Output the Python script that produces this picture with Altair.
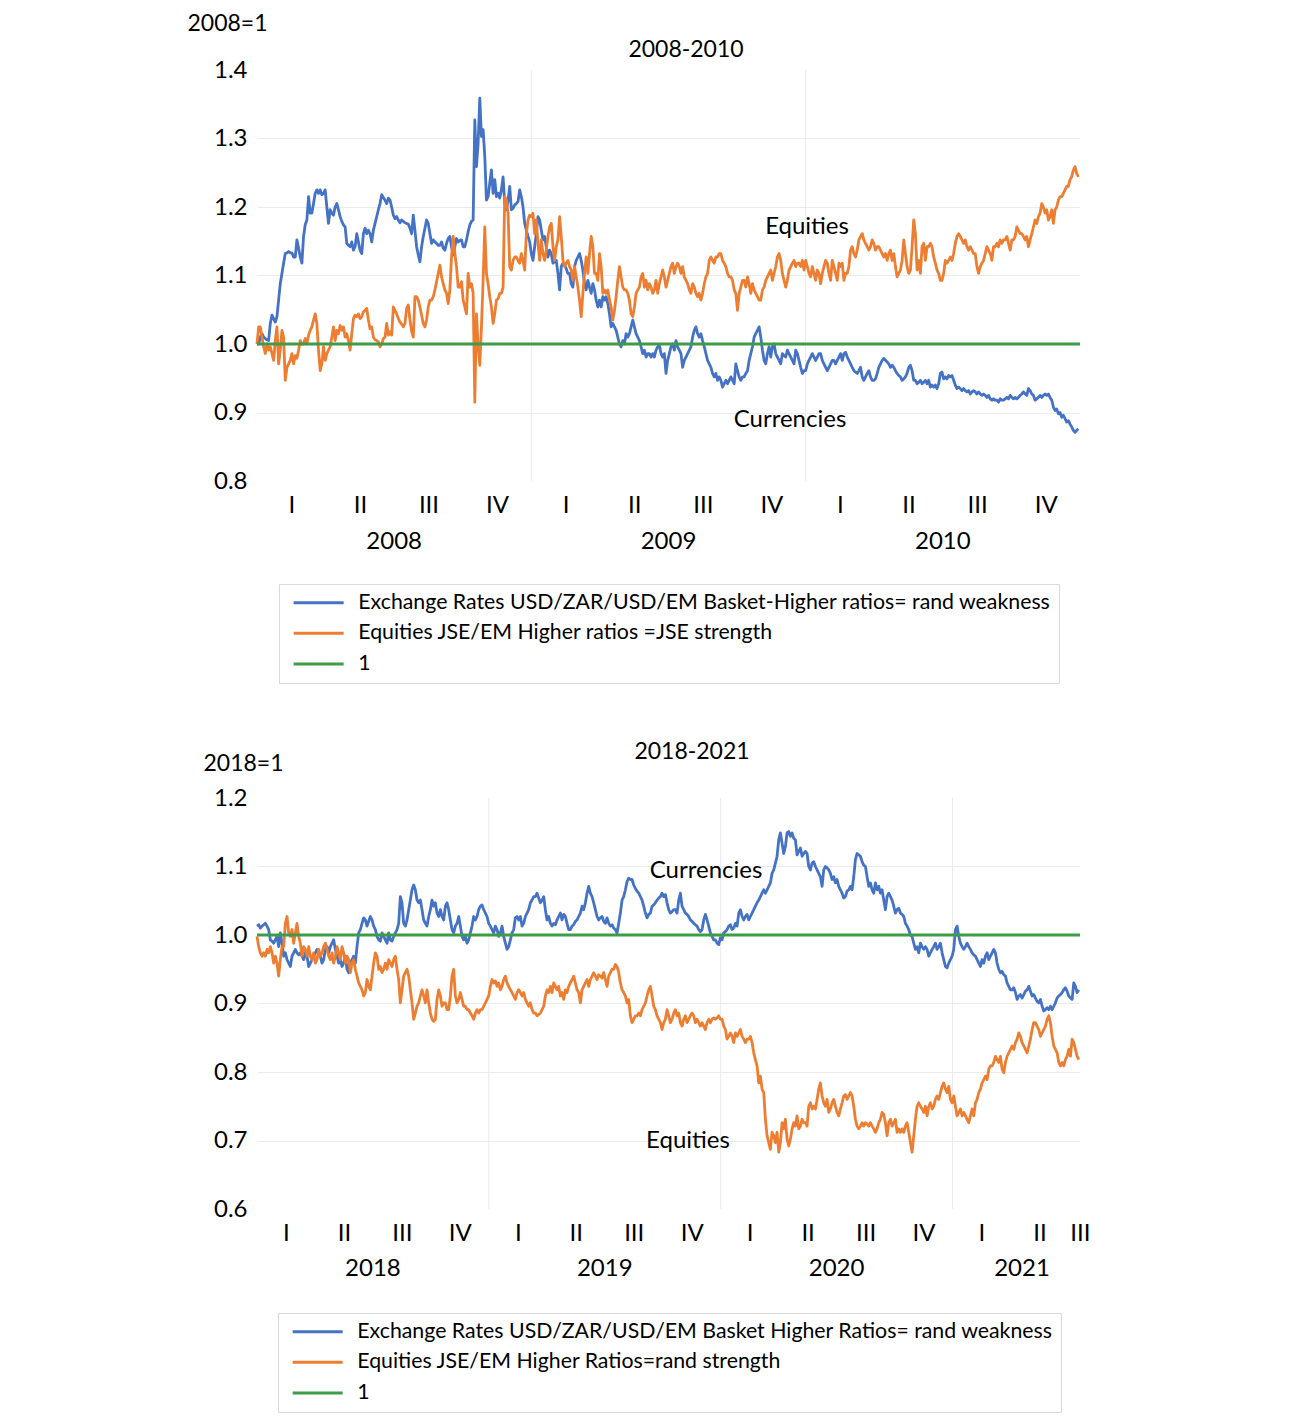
import altair as alt
import numpy as np
import pandas as pd

FONT = "Lato"
BLUE, ORANGE, GREEN = "#4472C4", "#ED7D31", "#3E9B47"
GRID = "#ebebeb"

# ------------------------------------------------------------------ 2008-2010
top_title = "2008-2010"
top_unit = "2008=1"
top_years = [2008, 2009, 2010]
top_boundaries = [2009, 2010]
top_fx_name = "Exchange Rates USD/ZAR/USD/EM Basket-Higher ratios= rand weakness"
top_eq_name = "Equities  JSE/EM Higher ratios =JSE strength"
top_obs_per_year = 165  # evenly spaced observations from 1 Jan 2008

top_fx = [
    1.000, 1.000, 1.010, 1.015, 1.010, 1.008, 1.006, 1.005, 1.030, 1.042,
    1.037, 1.032, 1.040, 1.064, 1.088, 1.103, 1.118, 1.132, 1.133, 1.135,
    1.133, 1.133, 1.127, 1.127, 1.152, 1.140, 1.127, 1.118, 1.157, 1.174,
    1.181, 1.215, 1.191, 1.191, 1.205, 1.220, 1.225, 1.220, 1.225, 1.218,
    1.220, 1.225, 1.200, 1.176, 1.196, 1.191, 1.188, 1.200, 1.205, 1.196,
    1.186, 1.179, 1.174, 1.171, 1.147, 1.144, 1.142, 1.149, 1.137, 1.142,
    1.161, 1.149, 1.137, 1.132, 1.161, 1.169, 1.161, 1.166, 1.161, 1.149,
    1.166, 1.176, 1.186, 1.196, 1.205, 1.218, 1.214, 1.210, 1.205, 1.213,
    1.210, 1.200, 1.188, 1.183, 1.186, 1.181, 1.177, 1.181, 1.179, 1.177,
    1.176, 1.175, 1.169, 1.161, 1.188, 1.166, 1.142, 1.130, 1.120, 1.142,
    1.157, 1.169, 1.181, 1.176, 1.161, 1.147, 1.152, 1.149, 1.147, 1.144,
    1.144, 1.149, 1.140, 1.137, 1.147, 1.154, 1.157, 1.142, 1.130, 1.142,
    1.154, 1.149, 1.151, 1.152, 1.142, 1.142, 1.152, 1.164, 1.174, 1.179,
    1.181, 1.327, 1.259, 1.293, 1.359, 1.303, 1.313, 1.274, 1.210, 1.215,
    1.235, 1.254, 1.220, 1.240, 1.215, 1.220, 1.213, 1.225, 1.244, 1.205,
    1.196, 1.210, 1.230, 1.196, 1.198, 1.203, 1.205, 1.208, 1.225, 1.215,
    1.200, 1.176, 1.166, 1.157, 1.149,
    # 2009
    1.132, 1.122, 1.142, 1.161, 1.186, 1.181, 1.166, 1.152, 1.157, 1.142,
    1.127, 1.137, 1.132, 1.118, 1.120, 1.122, 1.103, 1.079, 1.113, 1.118,
    1.115, 1.110, 1.103, 1.103, 1.088, 1.083, 1.113, 1.122, 1.127, 1.132,
    1.122, 1.108, 1.088, 1.079, 1.093, 1.083, 1.074, 1.088, 1.079, 1.064,
    1.054, 1.064, 1.054, 1.069, 1.064, 1.069, 1.059, 1.044, 1.025, 1.030,
    1.025, 1.020, 1.010, 1.000, 0.996, 1.005, 1.000, 1.015, 1.010, 1.015,
    1.025, 1.035, 1.025, 1.015, 1.010, 1.005, 0.996, 0.986, 0.991, 0.981,
    0.986, 0.986, 0.981, 0.986, 0.981, 0.991, 0.996, 0.998, 0.986, 0.981,
    0.986, 0.957, 0.976, 0.986, 0.996, 1.000, 0.991, 1.005, 0.996, 0.991,
    0.986, 0.966, 0.976, 0.981, 0.986, 0.991, 0.996, 1.010, 1.020, 1.025,
    1.015, 1.010, 1.015, 1.005, 0.996, 0.986, 0.976, 0.971, 0.966, 0.957,
    0.952, 0.957, 0.947, 0.952, 0.947, 0.937, 0.942, 0.947, 0.942, 0.947,
    0.952, 0.947, 0.942, 0.971, 0.961, 0.952, 0.947, 0.952, 0.952, 0.957,
    0.961, 0.976, 0.986, 0.996, 1.010, 1.015, 1.020, 1.025, 1.010, 0.991,
    0.976, 0.971, 0.986, 0.996, 0.981, 0.996, 1.000, 0.986, 0.981, 0.976,
    0.971, 0.986, 0.983, 0.981, 0.991, 0.986, 0.981, 0.976, 0.971, 0.991,
    0.986, 0.976, 0.966, 0.957, 0.961,
    # 2010
    0.961, 0.971, 0.976, 0.981, 0.986, 0.981, 0.976, 0.981, 0.986, 0.986,
    0.976, 0.971, 0.966, 0.961, 0.966, 0.971, 0.976, 0.976, 0.971, 0.976,
    0.981, 0.986, 0.976, 0.986, 0.988, 0.981, 0.976, 0.971, 0.966, 0.961,
    0.959, 0.957, 0.961, 0.966, 0.952, 0.947, 0.952, 0.957, 0.961, 0.952,
    0.947, 0.947, 0.949, 0.957, 0.966, 0.971, 0.976, 0.979, 0.976, 0.974,
    0.971, 0.966, 0.969, 0.966, 0.961, 0.957, 0.954, 0.952, 0.947, 0.949,
    0.952, 0.957, 0.966, 0.969, 0.961, 0.947, 0.947, 0.942, 0.944, 0.947,
    0.942, 0.944, 0.947, 0.942, 0.947, 0.937, 0.940, 0.937, 0.940, 0.935,
    0.942, 0.957, 0.959, 0.949, 0.952, 0.949, 0.954, 0.952, 0.954, 0.947,
    0.940, 0.935, 0.937, 0.935, 0.932, 0.935, 0.932, 0.930, 0.932, 0.927,
    0.930, 0.932, 0.930, 0.927, 0.930, 0.927, 0.925, 0.927, 0.925, 0.922,
    0.925, 0.920, 0.918, 0.920, 0.918, 0.918, 0.915, 0.920, 0.918, 0.918,
    0.920, 0.922, 0.920, 0.925, 0.922, 0.920, 0.922, 0.920, 0.922, 0.925,
    0.927, 0.930, 0.927, 0.925, 0.935, 0.932, 0.927, 0.925, 0.918, 0.920,
    0.922, 0.925, 0.922, 0.925, 0.927, 0.925, 0.927, 0.922, 0.918, 0.908,
    0.903, 0.905, 0.898, 0.900, 0.893, 0.896, 0.891, 0.886, 0.888, 0.883,
    0.879, 0.874, 0.871, 0.874, 0.876,
]

top_eq = [
    1.000, 1.025, 1.025, 1.010, 0.996, 0.986, 1.000, 0.991, 0.996, 0.986,
    0.976, 1.005, 1.025, 0.971, 0.991, 1.020, 1.010, 0.947, 0.966, 0.971,
    0.976, 0.986, 0.971, 0.983, 0.979, 0.991, 1.005, 1.000, 1.000, 1.008,
    1.000, 1.013, 1.020, 1.025, 1.035, 1.044, 1.030, 0.991, 0.961, 0.971,
    0.996, 0.976, 0.986, 0.991, 0.996, 1.010, 1.025, 1.005, 1.020, 1.015,
    1.027, 1.020, 1.025, 1.010, 1.015, 1.005, 0.991, 1.015, 1.037, 1.042,
    1.040, 1.044, 1.037, 1.040, 1.047, 1.049, 1.052, 1.035, 1.022, 1.025,
    1.010, 1.006, 1.005, 1.003, 0.996, 1.000, 1.008, 1.010, 1.030, 1.013,
    1.018, 1.013, 1.054, 1.049, 1.044, 1.037, 1.032, 1.029, 1.025, 1.030,
    1.052, 1.057, 1.035, 1.018, 1.010, 1.069, 1.069, 1.064, 1.054, 1.042,
    1.030, 1.025, 1.035, 1.054, 1.064, 1.064, 1.069, 1.079, 1.091, 1.103,
    1.115, 1.098, 1.088, 1.079, 1.074, 1.059, 1.079, 1.127, 1.157, 1.132,
    1.113, 1.083, 1.083, 1.091, 1.064, 1.054, 1.044, 1.103, 1.083, 1.088,
    1.074, 0.915, 1.044, 0.996, 0.969, 1.025, 1.093, 1.171, 1.103, 1.088,
    1.069, 1.054, 1.030, 1.044, 1.064, 1.066, 1.074, 1.074, 1.083, 1.215,
    1.210, 1.191, 1.113, 1.108, 1.122, 1.127, 1.127, 1.122, 1.118, 1.132,
    1.122, 1.108, 1.161, 1.181, 1.188,
    # 2009
    1.186, 1.191, 1.161, 1.181, 1.147, 1.122, 1.152, 1.132, 1.122, 1.137,
    1.157, 1.171, 1.176, 1.142, 1.122, 1.142, 1.152, 1.186, 1.157, 1.122,
    1.113, 1.118, 1.122, 1.113, 1.108, 1.093, 1.113, 1.098, 1.083, 1.064,
    1.040, 1.074, 1.103, 1.127, 1.103, 1.132, 1.157, 1.142, 1.103, 1.103,
    1.093, 1.132, 1.113, 1.074, 1.079, 1.074, 1.079, 1.064, 1.054, 1.035,
    1.049, 1.069, 1.093, 1.113, 1.098, 1.083, 1.079, 1.079, 1.074, 1.064,
    1.044, 1.040, 1.054, 1.074, 1.079, 1.083, 1.098, 1.103, 1.083, 1.093,
    1.079, 1.088, 1.083, 1.074, 1.079, 1.093, 1.074, 1.088, 1.098, 1.108,
    1.098, 1.083, 1.093, 1.103, 1.113, 1.118, 1.103, 1.113, 1.118, 1.113,
    1.103, 1.113, 1.098, 1.093, 1.088, 1.079, 1.074, 1.088, 1.083, 1.074,
    1.069, 1.074, 1.064, 1.074, 1.088, 1.098, 1.103, 1.122, 1.127, 1.122,
    1.118, 1.127, 1.127, 1.132, 1.132, 1.122, 1.118, 1.113, 1.103, 1.098,
    1.098, 1.093, 1.079, 1.074, 1.049, 1.074, 1.083, 1.093, 1.093, 1.083,
    1.098, 1.088, 1.074, 1.088, 1.079, 1.074, 1.069, 1.064, 1.064, 1.079,
    1.083, 1.093, 1.098, 1.103, 1.108, 1.093, 1.103, 1.113, 1.127, 1.132,
    1.122, 1.103, 1.093, 1.083, 1.093, 1.108, 1.113, 1.118, 1.122, 1.113,
    1.118, 1.118, 1.113, 1.122, 1.108,
    # 2010
    1.122, 1.113, 1.103, 1.098, 1.113, 1.103, 1.093, 1.108, 1.103, 1.088,
    1.103, 1.113, 1.122, 1.118, 1.103, 1.093, 1.122, 1.113, 1.103, 1.093,
    1.118, 1.113, 1.118, 1.093, 1.103, 1.103, 1.113, 1.137, 1.142, 1.132,
    1.127, 1.137, 1.152, 1.157, 1.161, 1.152, 1.147, 1.142, 1.137, 1.142,
    1.152, 1.147, 1.137, 1.142, 1.142, 1.137, 1.132, 1.127, 1.132, 1.122,
    1.132, 1.137, 1.122, 1.132, 1.113, 1.098, 1.103, 1.108, 1.122, 1.152,
    1.132, 1.113, 1.103, 1.108, 1.142, 1.181, 1.161, 1.108, 1.122, 1.103,
    1.142, 1.147, 1.122, 1.142, 1.142, 1.147, 1.142, 1.127, 1.118, 1.108,
    1.103, 1.093, 1.093, 1.103, 1.122, 1.118, 1.122, 1.127, 1.122, 1.132,
    1.147, 1.157, 1.161, 1.157, 1.152, 1.147, 1.152, 1.142, 1.137, 1.142,
    1.137, 1.132, 1.132, 1.113, 1.103, 1.113, 1.118, 1.122, 1.132, 1.142,
    1.137, 1.132, 1.122, 1.142, 1.142, 1.147, 1.142, 1.152, 1.147, 1.152,
    1.152, 1.157, 1.147, 1.137, 1.152, 1.152, 1.157, 1.171, 1.166, 1.161,
    1.161, 1.157, 1.152, 1.157, 1.142, 1.152, 1.161, 1.171, 1.181, 1.176,
    1.186, 1.191, 1.205, 1.200, 1.191, 1.196, 1.181, 1.186, 1.196, 1.176,
    1.196, 1.200, 1.210, 1.215, 1.215, 1.220, 1.225, 1.230, 1.230, 1.240,
    1.244, 1.254, 1.259, 1.249, 1.244,
]

top_ann_t = [2010.005, 2009.943]
top_ann_v = [1.171, 0.889]
top_ann_text = ["Equities", "Currencies"]

# ------------------------------------------------------------------ 2018-2021
bot_title = "2018-2021"
bot_unit = "2018=1"
bot_years = [2018, 2019, 2020, 2021]
bot_boundaries = [2019, 2020, 2021]
bot_fx_name = "Exchange Rates USD/ZAR/USD/EM Basket Higher Ratios= rand weakness"
bot_eq_name = "Equities JSE/EM Higher Ratios=rand strength"
bot_obs_per_year = 139.08  # evenly spaced observations from 1 Jan 2018
bot_end = 2021.55

bot_fx = [
    1.013, 1.015, 1.010, 1.013, 1.015, 1.017, 1.013, 1.008, 0.993, 0.991,
    0.988, 0.993, 0.998, 0.983, 1.003, 0.988, 0.969, 0.974, 0.964, 0.959,
    0.954, 0.969, 0.974, 0.979, 0.974, 0.971, 0.974, 0.969, 0.964, 0.974,
    0.969, 0.954, 0.959, 0.964, 0.969, 0.974, 0.979, 0.974, 0.969, 0.959,
    0.964, 0.979, 0.983, 0.974, 0.983, 0.988, 0.993, 0.979, 0.969, 0.959,
    0.964, 0.954, 0.959, 0.969, 0.950, 0.945, 0.959, 0.964, 0.969, 0.959,
    0.983, 1.003, 1.008, 1.017, 1.025, 1.022, 1.013, 1.020, 1.027, 1.022,
    1.013, 1.008, 0.998, 0.993, 0.991, 1.003, 0.998, 0.993, 0.988, 1.003,
    0.993, 0.991, 0.998, 1.003, 1.008, 1.017, 1.056, 1.047, 1.017, 1.013,
    1.022, 1.037, 1.051, 1.066, 1.073, 1.066, 1.051, 1.047, 1.051, 1.037,
    1.022, 1.017, 1.013, 1.027, 1.037, 1.051, 1.042, 1.047, 1.032, 1.027,
    1.037, 1.027, 1.022, 1.042, 1.047, 1.037, 1.022, 1.008, 1.003, 1.013,
    1.017, 1.027, 1.013, 0.998, 0.993, 0.998, 0.988, 0.993, 1.003, 1.013,
    1.027, 1.022, 1.027, 1.037, 1.042, 1.044, 1.037, 1.032, 1.027, 1.017,
    1.013, 1.008, 1.003, 1.013, 1.008, 0.998, 1.003, 1.013, 0.998, 0.988,
    0.979, 0.983, 0.993, 1.003, 1.008, 1.025, 1.027, 1.022, 1.027, 1.013,
    1.017, 1.027, 1.032, 1.037, 1.047, 1.051, 1.056,
    1.056, 1.061, 1.054, 1.047, 1.051, 1.056, 1.037, 1.022, 1.027, 1.017,
    1.013, 1.017, 1.015, 1.022, 1.027, 1.032, 1.022, 1.030, 1.027, 1.017,
    1.008, 1.008, 1.013, 1.015, 1.020, 1.022, 1.027, 1.032, 1.042, 1.037,
    1.047, 1.061, 1.071, 1.061, 1.056, 1.047, 1.037, 1.027, 1.022, 1.025,
    1.027, 1.020, 1.017, 1.025, 1.017, 1.013, 1.015, 1.010, 1.008, 1.003,
    1.017, 1.032, 1.051, 1.056, 1.066, 1.078, 1.083, 1.081, 1.081, 1.073,
    1.068, 1.064, 1.061, 1.056, 1.051, 1.042, 1.032, 1.025, 1.030, 1.032,
    1.042, 1.044, 1.047, 1.051, 1.054, 1.056, 1.061, 1.056, 1.059, 1.047,
    1.037, 1.032, 1.034, 1.037, 1.037, 1.032, 1.051, 1.061, 1.042, 1.037,
    1.032, 1.030, 1.027, 1.022, 1.020, 1.017, 1.015, 1.013, 1.008, 1.005,
    1.008, 1.022, 1.030, 1.022, 1.013, 1.003, 0.998, 0.993, 0.993, 0.988,
    0.986, 0.996, 0.993, 1.003, 1.005, 1.008, 1.013, 1.015, 1.008, 1.010,
    1.017, 1.013, 1.032, 1.037, 1.027, 1.022, 1.027, 1.030, 1.022, 1.027,
    1.032, 1.037, 1.042, 1.047, 1.051, 1.056, 1.061, 1.066, 1.061, 1.066,
    1.071, 1.076, 1.090, 1.095, 1.105, 1.115, 1.139, 1.149, 1.134, 1.119,
    1.129, 1.149, 1.151, 1.144, 1.149, 1.141, 1.139, 1.117, 1.122, 1.127,
    1.115, 1.119, 1.122, 1.119,
    1.100, 1.095, 1.105, 1.107, 1.100, 1.095, 1.090, 1.085, 1.071, 1.095,
    1.100, 1.098, 1.095, 1.090, 1.081, 1.085, 1.076, 1.081, 1.071, 1.066,
    1.061, 1.054, 1.056, 1.064, 1.066, 1.071, 1.066, 1.085, 1.110, 1.119,
    1.117, 1.115, 1.107, 1.102, 1.100, 1.085, 1.071, 1.076, 1.066, 1.061,
    1.076, 1.066, 1.071, 1.061, 1.066, 1.051, 1.037, 1.056, 1.061, 1.056,
    1.051, 1.042, 1.032, 1.037, 1.039, 1.032, 1.030, 1.027, 1.017, 1.013,
    1.008, 1.000, 0.998, 0.988, 0.979, 0.983, 0.974, 0.988, 0.983, 0.979,
    0.983, 0.979, 0.969, 0.974, 0.979, 0.983, 0.988, 0.979, 0.983, 0.988,
    0.974, 0.964, 0.954, 0.952, 0.959, 0.964, 0.969, 0.979, 1.008, 1.013,
    0.998, 0.988, 0.983, 0.979, 0.983, 0.988, 0.983, 0.979, 0.974, 0.971,
    0.969, 0.964, 0.959, 0.954, 0.964, 0.959, 0.969, 0.974, 0.964, 0.969,
    0.974, 0.979, 0.974, 0.959, 0.950, 0.945, 0.947, 0.942, 0.940, 0.930,
    0.925, 0.920, 0.920, 0.923, 0.916, 0.906, 0.911, 0.913, 0.908, 0.913,
    0.918, 0.920, 0.925, 0.918, 0.911, 0.913, 0.908, 0.903, 0.901, 0.906,
    0.896, 0.889, 0.891, 0.894, 0.891, 0.896, 0.891, 0.896, 0.901, 0.908,
    0.911, 0.913, 0.916, 0.920, 0.923, 0.918, 0.911, 0.908, 0.906, 0.930,
    0.925, 0.916, 0.920,
]

bot_eq = [
    0.998, 0.983, 0.974, 0.969, 0.974, 0.969, 0.979, 0.974, 0.983, 0.974,
    0.959, 0.969, 0.959, 0.940, 0.964, 0.983, 0.983, 1.017, 1.027, 1.003,
    0.998, 1.008, 0.988, 1.003, 1.017, 0.998, 0.988, 0.969, 0.983, 0.979,
    0.969, 0.983, 0.969, 0.964, 0.974, 0.959, 0.964, 0.979, 0.969, 0.974,
    0.983, 0.988, 0.979, 0.969, 0.964, 0.974, 0.959, 0.969, 0.983, 0.974,
    0.964, 0.983, 0.974, 0.959, 0.969, 0.964, 0.945, 0.959, 0.964, 0.950,
    0.940, 0.930, 0.925, 0.920, 0.911, 0.916, 0.935, 0.925, 0.920, 0.940,
    0.959, 0.974, 0.969, 0.950, 0.954, 0.945, 0.950, 0.959, 0.950, 0.964,
    0.959, 0.954, 0.964, 0.969, 0.950, 0.935, 0.901, 0.920, 0.940, 0.945,
    0.950, 0.940, 0.920, 0.901, 0.877, 0.886, 0.896, 0.901, 0.911, 0.920,
    0.911, 0.901, 0.920, 0.901, 0.886, 0.877, 0.874, 0.877, 0.906, 0.920,
    0.911, 0.896, 0.901, 0.901, 0.891, 0.891, 0.911, 0.940, 0.950, 0.911,
    0.901, 0.906, 0.916, 0.906, 0.896, 0.896, 0.891, 0.891, 0.886, 0.882,
    0.877, 0.886, 0.891, 0.886, 0.891, 0.891, 0.896, 0.901, 0.906, 0.911,
    0.925, 0.935, 0.930, 0.933, 0.925, 0.930, 0.920, 0.925, 0.935, 0.940,
    0.930, 0.925, 0.920, 0.916, 0.911, 0.906, 0.916, 0.920, 0.916, 0.911,
    0.916, 0.906, 0.901, 0.896, 0.901, 0.891, 0.886,
    0.886, 0.882, 0.884, 0.886, 0.891, 0.896, 0.911, 0.920, 0.916, 0.925,
    0.916, 0.930, 0.925, 0.920, 0.925, 0.911, 0.916, 0.906, 0.920, 0.916,
    0.925, 0.930, 0.935, 0.940, 0.930, 0.920, 0.916, 0.901, 0.920, 0.925,
    0.930, 0.935, 0.925, 0.935, 0.940, 0.945, 0.940, 0.935, 0.942, 0.940,
    0.937, 0.945, 0.935, 0.925, 0.940, 0.945, 0.950, 0.950, 0.957, 0.954,
    0.945, 0.930, 0.920, 0.916, 0.911, 0.901, 0.906, 0.882, 0.872, 0.877,
    0.882, 0.882, 0.886, 0.882, 0.891, 0.896, 0.901, 0.911, 0.920, 0.925,
    0.911, 0.896, 0.891, 0.882, 0.877, 0.872, 0.862, 0.872, 0.877, 0.891,
    0.882, 0.872, 0.877, 0.886, 0.891, 0.882, 0.886, 0.872, 0.867, 0.877,
    0.882, 0.872, 0.877, 0.882, 0.886, 0.882, 0.872, 0.877, 0.872, 0.867,
    0.872, 0.867, 0.862, 0.872, 0.877, 0.872, 0.877, 0.879, 0.877, 0.879,
    0.882, 0.877, 0.877, 0.867, 0.862, 0.848, 0.852, 0.857, 0.852, 0.843,
    0.857, 0.852, 0.857, 0.862, 0.852, 0.848, 0.843, 0.848, 0.848, 0.852,
    0.843, 0.828, 0.818, 0.809, 0.784, 0.794, 0.775, 0.770, 0.731, 0.707,
    0.697, 0.687, 0.712, 0.707, 0.697, 0.712, 0.683, 0.697, 0.726, 0.717,
    0.731, 0.702, 0.692, 0.702, 0.717, 0.726, 0.721, 0.736, 0.717, 0.721,
    0.731, 0.726, 0.726, 0.721,
    0.750, 0.755, 0.746, 0.750, 0.746, 0.760, 0.775, 0.784, 0.765, 0.755,
    0.750, 0.760, 0.741, 0.746, 0.755, 0.760, 0.750, 0.741, 0.736, 0.746,
    0.755, 0.765, 0.767, 0.760, 0.765, 0.770, 0.765, 0.750, 0.731, 0.721,
    0.717, 0.721, 0.726, 0.721, 0.726, 0.724, 0.721, 0.726, 0.721, 0.717,
    0.712, 0.717, 0.726, 0.731, 0.741, 0.738, 0.726, 0.707, 0.726, 0.731,
    0.721, 0.726, 0.731, 0.712, 0.717, 0.712, 0.717, 0.712, 0.721, 0.726,
    0.712, 0.697, 0.683, 0.707, 0.731, 0.750, 0.755, 0.750, 0.746, 0.741,
    0.750, 0.736, 0.750, 0.755, 0.746, 0.750, 0.760, 0.765, 0.760, 0.770,
    0.779, 0.784, 0.775, 0.770, 0.779, 0.760, 0.755, 0.765, 0.750, 0.736,
    0.741, 0.746, 0.736, 0.741, 0.736, 0.731, 0.726, 0.736, 0.746, 0.736,
    0.755, 0.760, 0.770, 0.775, 0.784, 0.789, 0.794, 0.789, 0.804, 0.809,
    0.809, 0.814, 0.823, 0.818, 0.814, 0.823, 0.804, 0.799, 0.814, 0.823,
    0.828, 0.833, 0.838, 0.833, 0.843, 0.848, 0.857, 0.852, 0.843, 0.838,
    0.833, 0.828, 0.838, 0.848, 0.862, 0.872, 0.872, 0.867, 0.862, 0.852,
    0.857, 0.862, 0.867, 0.877, 0.882, 0.872, 0.852, 0.838, 0.833, 0.828,
    0.814, 0.809, 0.814, 0.809, 0.818, 0.823, 0.833, 0.823, 0.848, 0.843,
    0.833, 0.823, 0.818,
]

bot_ann_t = [2019.937, 2019.859]
bot_ann_v = [1.093, 0.699]
bot_ann_text = ["Currencies", "Equities"]

W, H = 823, 411


def series(t0, per_year, values, name):
    t = t0 + np.arange(len(values)) / per_year
    return pd.DataFrame({"t": t, "v": values, "s": name})


def panel(fx, eq, t0, per_year, x_dom, y_dom, q_pos, years, year_mid, bounds,
          title, unit, fx_name, eq_name, ann_t, ann_v, ann_text,
          unit_xy, title_xy, leg_xy, year_dy):
    names = [fx_name, eq_name, "1"]
    x_enc = alt.X(
        "t:Q",
        scale=alt.Scale(domain=x_dom, nice=False, zero=False),
        axis=alt.Axis(
            values=q_pos,
            labelExpr="['I','II','III','IV'][floor((datum.value - floor(datum.value)) * 4 + 0.0001)]",
            grid=False, ticks=False, domain=False, title=None,
            labelFontSize=24, labelPadding=24, labelBaseline="middle",
            labelFlush=False, labelOverlap=False, labelColor="#000000",
            labelFont=FONT,
        ),
    )
    y_ticks = [round(y_dom[0] + 0.1 * i, 1) for i in range(7)]
    y_enc = alt.Y(
        "v:Q",
        scale=alt.Scale(domain=y_dom, nice=False, zero=False),
        axis=alt.Axis(
            values=y_ticks, format=".1f", ticks=False, domain=False,
            grid=True,
            gridColor={"condition": {"test": f"datum.value < {y_dom[0] + 0.05} || datum.value > {y_dom[1] - 0.05}",
                                     "value": "transparent"},
                       "value": GRID},
            labelFontSize=24, labelPadding=10, labelColor="#000000", labelFont=FONT,
            title=unit, titleAngle=0, titleX=unit_xy[0], titleY=unit_xy[1],
            titleAlign="center", titleBaseline="middle", titleFontSize=23,
            titleFontWeight="normal", titleColor="#000000", titleFont=FONT,
        ),
    )
    color_enc = alt.Color(
        "s:N",
        scale=alt.Scale(domain=names, range=[BLUE, ORANGE, GREEN]),
        legend=alt.Legend(
            title=None, orient="none", legendX=leg_xy[0], legendY=leg_xy[1],
            direction="vertical", symbolType="M-5,0H5", symbolSize=100,
            symbolStrokeWidth=3, symbolOffset=21, labelOffset=29,
            labelFontSize=21.3, labelFont=FONT, labelColor="#000000",
            labelLimit=2000, rowPadding=8.7, padding=8,
            strokeColor="#d9d9d9", fillColor="white",
        ),
    )

    rules = alt.Chart(pd.DataFrame({"t": bounds})).mark_rule(
        color=GRID, strokeWidth=1
    ).encode(x=x_enc)
    fx_line = alt.Chart(series(t0, per_year, fx, fx_name)).mark_line(
        strokeWidth=2.8, strokeJoin="round"
    ).encode(x=x_enc, y=y_enc, color=color_enc)
    eq_line = alt.Chart(series(t0, per_year, eq, eq_name)).mark_line(
        strokeWidth=2.8, strokeJoin="round"
    ).encode(x=x_enc, y=y_enc, color=color_enc)
    one_line = alt.Chart(
        pd.DataFrame({"t": list(x_dom), "v": [1.0, 1.0], "s": ["1", "1"]})
    ).mark_line(strokeWidth=3).encode(x=x_enc, y=y_enc, color=color_enc)

    ann = alt.Chart(
        pd.DataFrame({"t": ann_t, "v": ann_v, "label": ann_text})
    ).mark_text(font=FONT, fontSize=24, color="#000000", baseline="middle").encode(
        x=x_enc, y=y_enc, text="label:N"
    )
    yr = alt.Chart(
        pd.DataFrame({"t": year_mid, "label": [str(y) for y in years]})
    ).mark_text(font=FONT, fontSize=24, color="#000000", baseline="middle").encode(
        x=x_enc, y=alt.value(H + year_dy), text="label:N"
    )
    ttl = alt.Chart(pd.DataFrame({"label": [title]})).mark_text(
        font=FONT, fontSize=23, color="#000000", baseline="middle"
    ).encode(x=alt.value(title_xy[0]), y=alt.value(title_xy[1]), text="label:N")

    return alt.layer(rules, fx_line, eq_line, one_line, ann, yr, ttl).properties(
        width=W, height=H
    )


top_q = [y + (q + 0.5) / 4 for y in top_years for q in range(4)]
bot_q = [y + (q + 0.5) / 4 for y in bot_years[:3] for q in range(4)] + [2021.125, 2021.375, 2021.549]

top = panel(
    top_fx, top_eq, 2008, top_obs_per_year, [2008, 2011], [0.8, 1.4], top_q,
    top_years, [y + 0.5 for y in top_years], top_boundaries,
    top_title, top_unit, top_fx_name, top_eq_name,
    top_ann_t, top_ann_v, top_ann_text,
    unit_xy=(-30, -47), title_xy=(429, -20), leg_xy=(22, 514), year_dy=61,
)
bottom = panel(
    bot_fx, bot_eq, 2018, bot_obs_per_year, [2018, bot_end], [0.6, 1.2], bot_q,
    bot_years, [2018.5, 2019.5, 2020.5, 2021.3], bot_boundaries,
    bot_title, bot_unit, bot_fx_name, bot_eq_name,
    bot_ann_t, bot_ann_v, bot_ann_text,
    unit_xy=(-14, -35), title_xy=(435, -46), leg_xy=(21, 515), year_dy=60,
)

chart = alt.vconcat(top, bottom, spacing=317, bounds="flush").resolve_scale(
    color="independent", x="independent", y="independent"
).resolve_legend(color="independent").properties(
    padding={"left": 178, "top": 4, "right": 5, "bottom": 5}
).configure(font=FONT).configure_view(stroke=None)

chart.save("out.html", embed_options={"renderer": "svg", "actions": False})
